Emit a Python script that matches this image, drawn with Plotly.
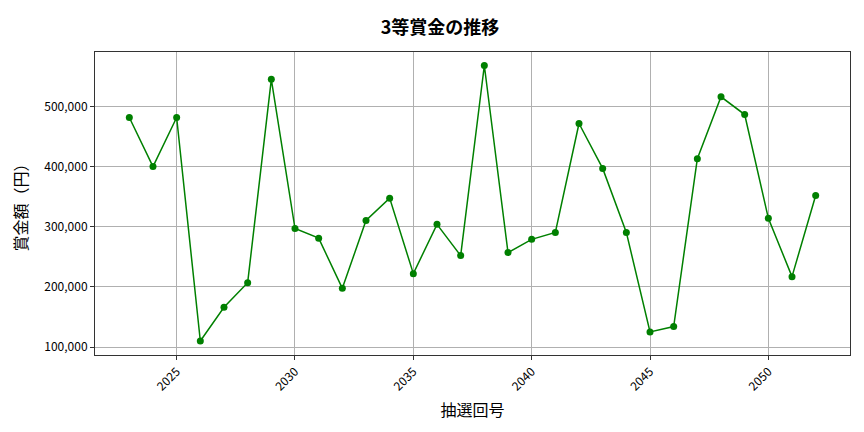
import plotly.graph_objects as go

draws = list(range(2023, 2053))
prizes = [481600, 400000, 481600, 110000, 166000, 207000, 545000, 297000, 281000, 197500,
          310500, 347500, 222000, 304000, 252000, 568000, 257000, 279000, 290500, 471600,
          397000, 290500, 125000, 134000, 413000, 516000, 486500, 314000, 217000, 352000]
x_ticks = [2025, 2030, 2035, 2040, 2045, 2050]
y_ticks = [100000, 200000, 300000, 400000, 500000]

font = "Noto Sans CJK JP, DejaVu Sans, sans-serif"

fig = go.Figure(go.Scatter(
    x=draws, y=prizes, mode="lines+markers",
    line=dict(color="green", width=1.5),
    marker=dict(color="green", size=7),
))

fig.update_layout(
    width=864, height=432,
    paper_bgcolor="white", plot_bgcolor="white",
    margin=dict(l=87, r=22, t=44, b=85),
    title=dict(text="<b>3等賞金の推移</b>", x=0.5, xanchor="center", y=0.955, yanchor="middle",
               font=dict(family=font, size=18, color="black")),
    font=dict(family=font, color="black"),
    showlegend=False,
)
fig.update_xaxes(
    range=[2021.55, 2053.45], tickvals=x_ticks, ticktext=[str(v) for v in x_ticks],
    tickangle=-45, ticks="outside", ticklen=4, tickcolor="#333",
    showgrid=True, gridcolor="#b0b0b0", gridwidth=1,
    showline=True, linecolor="#333", linewidth=1, mirror=True,
    tickfont=dict(size=12), zeroline=False,
    title=dict(text="抽選回号", font=dict(size=16), standoff=12),
)
fig.update_yaxes(
    range=[86700, 590500], tickvals=y_ticks, ticktext=[f"{v:,}" for v in y_ticks],
    ticks="outside", ticklen=4, tickcolor="#333",
    showgrid=True, gridcolor="#b0b0b0", gridwidth=1,
    showline=True, linecolor="#333", linewidth=1, mirror=True,
    tickfont=dict(size=12), zeroline=False,
    title=dict(text="賞金額（円）", font=dict(size=16), standoff=12),
)

fig.write_html("out.html")
